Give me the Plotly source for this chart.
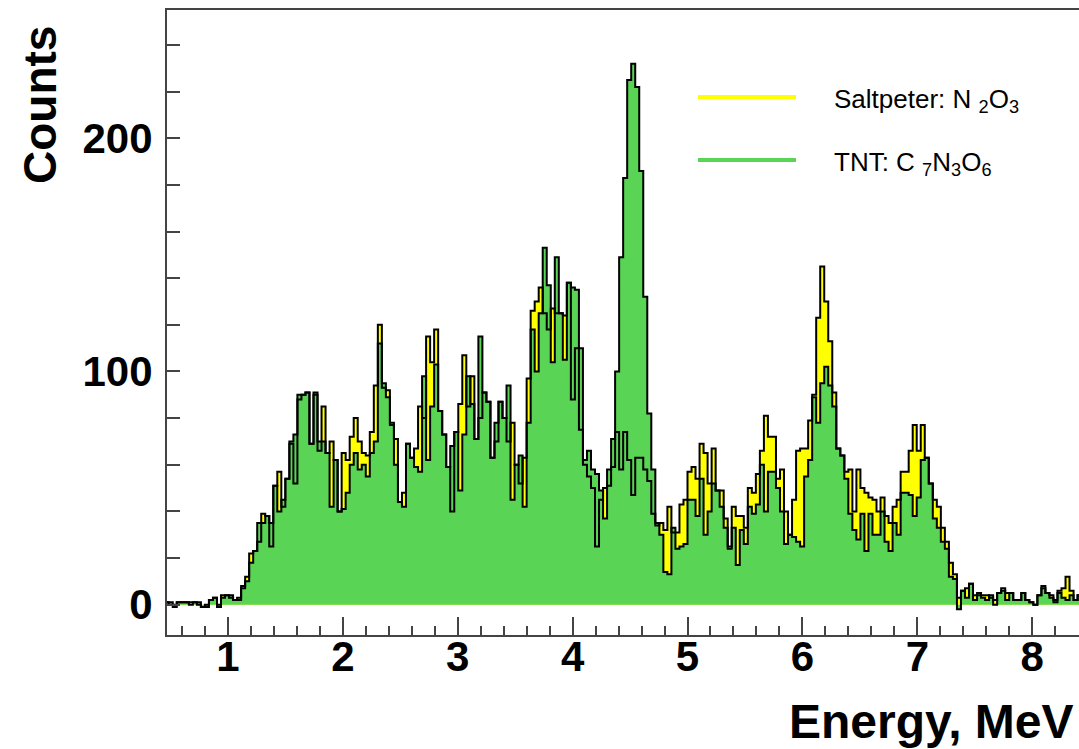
import plotly.graph_objects as go

# ---- data: histogram bins (MeV) ----
bin_start = 0.45
bin_width = 0.035

# TNT: C7N3O6 counts per bin
tnt = [1,
    1,-1,1,1,1,0,1,1,-1,-1, 2,3,-1,3,4,4,2,2,7,10,
    18,23,35,35,38,35,51,40,45,54, 70,73,90,90,91,69,91,70,70,65,
    42,62,40,41,48,60,65,58,60,55, 65,70,112,95,89,77,60,44,42,69,
    63,59,57,98,62,85,103,83,73,59, 68,74,49,73,98,86,71,115,91,87,
    63,78,87,80,94,45,60,64,42,78, 118,100,125,153,137,104,149,125,105,138,
    136,135,110,62,66,58,56,49,37,58, 71,100,149,183,225,232,222,186,132,82,
    58,35,30,14,13,33,24,25,26,45, 45,38,54,30,40,52,49,42,33,24,
    33,17,32,26,42,39,43,60,40,57, 57,50,40,26,30,29,27,25,55,62,
    89,78,95,102,94,85,67,64,54,39, 32,28,39,23,39,30,30,40,27,23,
    35,30,48,48,47,38,46,62,63,52, 37,33,27,24,12,11,-2,6,3,9,
    2,5,3,2,4,0,5,6,2,5, 2,2,5,2,1,0,4,7,5,3,
    2,5,3,2,4,2,4]

# Saltpeter: N2O3 counts per bin
salt = [1,
    0,0,1,1,1,1,1,0,-1,0, 2,3,0,4,4,3,2,3,8,12,
    22,23,27,39,38,25,51,57,42,54, 69,52,88,90,91,69,90,66,85,65,
    70,62,40,65,62,72,80,70,65,64, 74,94,120,93,92,78,71,44,48,69,
    63,67,85,80,115,104,118,83,73,59, 40,74,86,107,85,98,71,80,91,87,
    63,70,87,80,70,78,60,52,63,97, 126,130,136,125,118,127,125,125,124,138,
    88,110,75,60,55,50,25,45,50,51, 59,74,58,74,62,47,63,63,58,53,
    39,34,35,32,42,31,31,43,45,57, 59,54,69,65,52,67,49,49,37,25,
    42,38,38,33,50,48,56,66,81,72, 72,54,58,40,30,45,66,67,67,79,
    90,123,145,130,113,91,67,64,57,58, 40,58,50,48,46,45,40,46,38,35,
    42,45,57,57,66,77,66,77,63,52, 45,42,33,27,18,13,3,6,7,9,
    4,4,4,4,3,2,5,7,5,5, 2,2,5,2,1,0,4,8,5,4,
    1,6,7,12,6,2,4]

x_ticks = [1, 2, 3, 4, 5, 6, 7, 8]
y_ticks = [0, 100, 200]

edges = [bin_start + bin_width * i for i in range(len(tnt) + 1)]
tnt_y = tnt + [tnt[-1]]
salt_y = salt + [salt[-1]]

YELLOW = "#ffff00"
GREEN = "#59d454"
FONT = "Liberation Sans, Arial, Helvetica, sans-serif"

fig = go.Figure()
fig.add_trace(go.Scatter(x=edges, y=salt_y, mode="lines", line=dict(width=0, shape="hv"),
                         fill="tozeroy", fillcolor=YELLOW, showlegend=False, hoverinfo="skip"))
fig.add_trace(go.Scatter(x=edges, y=tnt_y, mode="lines", line=dict(width=0, shape="hv"),
                         fill="tozeroy", fillcolor=GREEN, showlegend=False, hoverinfo="skip"))
fig.add_trace(go.Scatter(x=edges, y=salt_y, mode="lines", name="Saltpeter",
                         line=dict(color="black", width=2, shape="hv"), showlegend=False))
fig.add_trace(go.Scatter(x=edges, y=tnt_y, mode="lines", name="TNT",
                         line=dict(color="black", width=2, shape="hv"), showlegend=False))

L, R, T, B = 167, 0, 10, 114
W, H = 1079, 749
pw, ph = W - L - R, H - T - B
px_per_mev = 114.9
xmin = 0.47
xmax = xmin + pw / px_per_mev


def paper_x(px):
    return (px - L) / pw


def paper_y(py):
    return (H - B - py) / ph


fig.update_layout(
    width=W, height=H,
    margin=dict(l=L, r=R, t=T, b=B),
    paper_bgcolor="white", plot_bgcolor="white",
    font=dict(family=FONT, color="black"),
    xaxis=dict(range=[xmin, xmax], showgrid=False, zeroline=False,
               showline=True, linecolor="#444", linewidth=2, mirror=True,
               ticks="inside", ticklen=18, tickwidth=1.5, tickcolor="#444",
               tickvals=x_ticks, ticktext=[str(v) for v in x_ticks],
               minor=dict(dtick=0.2, tick0=0, ticks="inside", ticklen=9, tickwidth=1.5, tickcolor="#444"),
               ticklabelstandoff=-16,
               tickfont=dict(family=FONT, size=42, weight="bold", color="black")),
    yaxis=dict(range=[-13, 255], showgrid=False, zeroline=False,
               showline=True, linecolor="#444", linewidth=2,
               ticks="inside", ticklen=13, tickwidth=1.5, tickcolor="#444",
               tickvals=y_ticks, ticktext=[str(v) for v in y_ticks],
               minor=dict(dtick=20, tick0=0, ticks="inside", ticklen=13, tickwidth=1.5, tickcolor="#444"),
               ticklabelstandoff=4,
               tickfont=dict(family=FONT, size=42, weight="bold", color="black")),
    showlegend=False,
)

# axis titles
fig.add_annotation(text="Energy, MeV", xref="paper", yref="paper", x=paper_x(1076), y=paper_y(721),
                   xanchor="right", yanchor="middle", showarrow=False,
                   font=dict(family=FONT, size=48, weight="bold", color="black"))
fig.add_annotation(text="Counts", xref="paper", yref="paper", x=paper_x(40), y=paper_y(105),
                   xanchor="center", yanchor="middle", textangle=-90, showarrow=False,
                   font=dict(family=FONT, size=46, weight="bold", color="black"))

# legend
legend_items = [("Saltpeter: N <sub>2</sub>O<sub>3</sub>", YELLOW, 97),
                ("TNT: C <sub>7</sub>N<sub>3</sub>O<sub>6</sub>", GREEN, 160)]
for label, color, ly in legend_items:
    fig.add_shape(type="line", xref="paper", yref="paper",
                  x0=paper_x(698), x1=paper_x(796), y0=paper_y(ly), y1=paper_y(ly),
                  line=dict(color=color, width=4))
    fig.add_annotation(text=label, xref="paper", yref="paper", x=paper_x(832), y=paper_y(ly + 3),
                       xanchor="left", yanchor="middle", showarrow=False,
                       font=dict(family=FONT, size=26, color="black"))

fig.write_html("out.html")
